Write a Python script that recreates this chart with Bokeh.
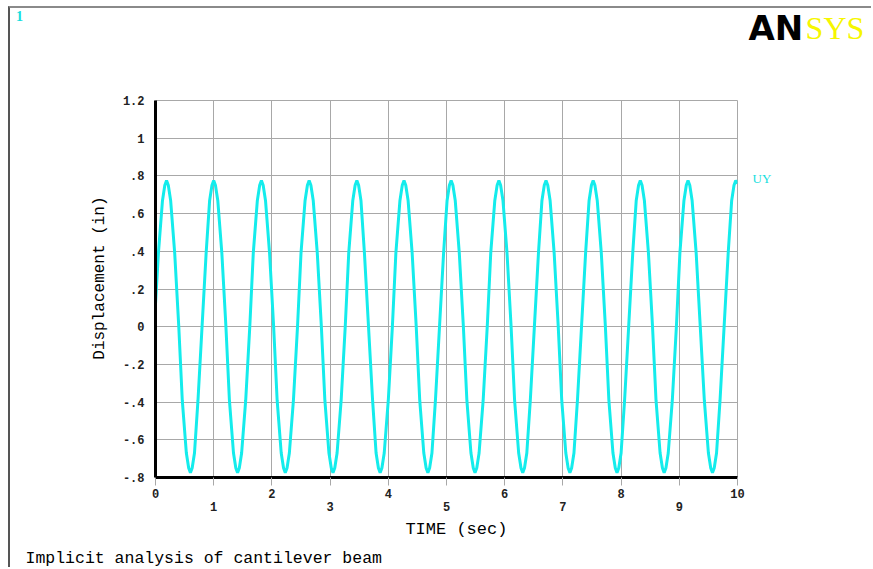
import math
from bokeh.plotting import figure
from bokeh.models import Range1d, FixedTicker, LinearAxis, Label, Grid
from bokeh.embed import file_html
from bokeh.resources import INLINE

# ---- data ----
time_s = [
    0.00, 0.05, 0.12, 0.16, 0.19,
    0.22, 0.26, 0.33, 0.40, 0.46, 0.53, 0.57, 0.60,
    0.63, 0.67, 0.73, 0.80, 0.87, 0.93, 0.97, 1.00,
    1.03, 1.07, 1.14, 1.21, 1.27, 1.34, 1.38, 1.41,
    1.44, 1.48, 1.55, 1.62, 1.68, 1.75, 1.79, 1.82,
    1.85, 1.89, 1.96, 2.03, 2.09, 2.16, 2.20, 2.23,
    2.26, 2.30, 2.37, 2.44, 2.50, 2.57, 2.61, 2.64,
    2.67, 2.71, 2.78, 2.85, 2.91, 2.98, 3.02, 3.05,
    3.08, 3.12, 3.19, 3.26, 3.32, 3.39, 3.43, 3.46,
    3.49, 3.53, 3.59, 3.66, 3.73, 3.79, 3.83, 3.86,
    3.89, 3.93, 4.00, 4.07, 4.13, 4.20, 4.24, 4.27,
    4.30, 4.34, 4.41, 4.48, 4.54, 4.61, 4.65, 4.68,
    4.71, 4.75, 4.81, 4.88, 4.95, 5.01, 5.05, 5.08,
    5.11, 5.15, 5.22, 5.29, 5.35, 5.42, 5.46, 5.49,
    5.52, 5.56, 5.63, 5.70, 5.76, 5.83, 5.87, 5.90,
    5.93, 5.97, 6.04, 6.11, 6.17, 6.24, 6.28, 6.31,
    6.34, 6.38, 6.44, 6.51, 6.58, 6.64, 6.68, 6.71,
    6.74, 6.78, 6.85, 6.92, 6.98, 7.05, 7.09, 7.12,
    7.15, 7.19, 7.25, 7.32, 7.39, 7.45, 7.49, 7.52,
    7.55, 7.59, 7.66, 7.73, 7.79, 7.86, 7.90, 7.93,
    7.96, 8.00, 8.06, 8.13, 8.20, 8.26, 8.30, 8.33,
    8.36, 8.40, 8.47, 8.54, 8.60, 8.67, 8.71, 8.74,
    8.77, 8.81, 8.88, 8.95, 9.01, 9.08, 9.12, 9.15,
    9.18, 9.22, 9.29, 9.36, 9.43, 9.50, 9.54, 9.57,
    9.60, 9.64, 9.70, 9.77, 9.84, 9.90, 9.94, 9.97,
    10.00,
]
uy_in = [
    0.12, 0.39, 0.67, 0.75, 0.775,
    0.75, 0.67, 0.39, 0.0, -0.39, -0.67, -0.75, -0.775,
    -0.75, -0.67, -0.39, 0.0, 0.39, 0.67, 0.75, 0.775,
    0.75, 0.67, 0.39, 0.0, -0.39, -0.67, -0.75, -0.775,
    -0.75, -0.67, -0.39, 0.0, 0.39, 0.67, 0.75, 0.775,
    0.75, 0.67, 0.39, 0.0, -0.39, -0.67, -0.75, -0.775,
    -0.75, -0.67, -0.39, 0.0, 0.39, 0.67, 0.75, 0.775,
    0.75, 0.67, 0.39, 0.0, -0.39, -0.67, -0.75, -0.775,
    -0.75, -0.67, -0.39, 0.0, 0.39, 0.67, 0.75, 0.775,
    0.75, 0.67, 0.39, 0.0, -0.39, -0.67, -0.75, -0.775,
    -0.75, -0.67, -0.39, 0.0, 0.39, 0.67, 0.75, 0.775,
    0.75, 0.67, 0.39, 0.0, -0.39, -0.67, -0.75, -0.775,
    -0.75, -0.67, -0.39, 0.0, 0.39, 0.67, 0.75, 0.775,
    0.75, 0.67, 0.39, 0.0, -0.39, -0.67, -0.75, -0.775,
    -0.75, -0.67, -0.39, 0.0, 0.39, 0.67, 0.75, 0.775,
    0.75, 0.67, 0.39, 0.0, -0.39, -0.67, -0.75, -0.775,
    -0.75, -0.67, -0.39, 0.0, 0.39, 0.67, 0.75, 0.775,
    0.75, 0.67, 0.39, 0.0, -0.39, -0.67, -0.75, -0.775,
    -0.75, -0.67, -0.39, 0.0, 0.39, 0.67, 0.75, 0.775,
    0.75, 0.67, 0.39, 0.0, -0.39, -0.67, -0.75, -0.775,
    -0.75, -0.67, -0.39, 0.0, 0.39, 0.67, 0.75, 0.775,
    0.75, 0.67, 0.39, 0.0, -0.39, -0.67, -0.75, -0.775,
    -0.75, -0.67, -0.39, 0.0, 0.39, 0.67, 0.75, 0.775,
    0.75, 0.67, 0.39, 0.0, -0.39, -0.67, -0.75, -0.775,
    -0.75, -0.67, -0.39, 0.0, 0.39, 0.67, 0.75, 0.775,
    0.76,
]
x_ticks = [0, 1, 2, 3, 4, 5, 6, 7, 8, 9, 10]
x_odd_ticks = [1, 3, 5, 7, 9]
y_ticks = [-0.8, -0.6, -0.4, -0.2, 0.0, 0.2, 0.4, 0.6, 0.8, 1.0, 1.2]
y_tick_labels = ["-.8", "-.6", "-.4", "-.2", "0", ".2", ".4", ".6", ".8", "1", "1.2"]

MONO = "Liberation Mono"
GRID = "#a8a8a8"
CYAN = "#14ecec"

p = figure(width=863, height=561, output_backend="svg", toolbar_location=None,
           x_range=Range1d(0, 10), y_range=Range1d(-0.8, 1.2),
           x_axis_type=None, y_axis_type=None,
           min_border_left=145, min_border_right=136,
           min_border_top=92, min_border_bottom=92)
p.styles = {"margin-left": "8px", "margin-top": "6px",
            "border-left": "2px solid #555555", "border-top": "2px solid #8a8a8a"}
p.outline_line_color = GRID
p.outline_line_width = 1
p.background_fill_color = "white"
p.border_fill_color = "white"

p.add_layout(Grid(dimension=0, ticker=FixedTicker(ticks=x_ticks),
                  grid_line_color=GRID, grid_line_width=1))
p.add_layout(Grid(dimension=1, ticker=FixedTicker(ticks=y_ticks),
                  grid_line_color=GRID, grid_line_width=1))

p.line(time_s, uy_in, line_color=CYAN, line_width=3)

tick_kw = dict(major_label_text_font=MONO, major_label_text_font_size="12px",
               major_label_text_font_style="bold", major_label_text_color="#222222",
               minor_tick_line_color=None)

yax = LinearAxis(ticker=FixedTicker(ticks=y_ticks),
                 major_label_overrides=dict(zip(y_ticks, y_tick_labels)),
                 axis_line_color="black", axis_line_width=3,
                 major_tick_line_color=None, major_label_standoff=5, **tick_kw)
p.add_layout(yax, "left")

xax = LinearAxis(ticker=FixedTicker(ticks=x_ticks),
                 major_label_overrides={t: "" for t in x_odd_ticks},
                 axis_line_color="black", axis_line_width=3,
                 major_tick_line_color=GRID, major_tick_in=0, major_tick_out=8,
                 major_label_standoff=3, **tick_kw)
p.add_layout(xax, "below")

xax2 = LinearAxis(ticker=FixedTicker(ticks=x_odd_ticks),
                  axis_line_color=None, major_tick_line_color=None,
                  major_tick_in=0, major_tick_out=0, major_label_standoff=1, **tick_kw)
p.add_layout(xax2, "below")

# texts in data units, placed in side panels so they are not clipped to the frame
def lab(side, x, y, text, **kw):
    p.add_layout(Label(x=x, y=y, text=text, text_baseline="middle", **kw), side)

lab("left", -0.962, 0.258, "Displacement (in)", text_font=MONO, text_font_size="16px",
    text_align="center", angle=math.pi / 2, text_color="black")
lab("below", 5.17, -1.075, "TIME (sec)", text_font=MONO, text_font_size="17px",
    text_align="center", text_color="black")
lab("below", -2.234, -1.23, "Implicit analysis of cantilever beam", text_font=MONO,
    text_font_size="16.5px", text_align="left", text_color="black")
lab("right", 10.258, 0.786, "UY", text_font="Liberation Serif", text_font_size="13px",
    text_align="left", text_color="#14dede")
lab("above", -2.395, 1.646, "1", text_font="Liberation Serif", text_font_size="14px",
    text_font_style="bold", text_align="left", text_color="#14dede")
lab("above", 10.19, 1.585, "AN", text_font="DejaVu Sans", text_font_size="34px",
    text_font_style="bold", text_align="left", text_color="black")
lab("right", 11.17, 1.585, "SYS", text_font="Liberation Serif", text_font_size="32px",
    text_align="left", text_color="#f6f600")

open("out.html", "w").write(file_html(p, INLINE))
